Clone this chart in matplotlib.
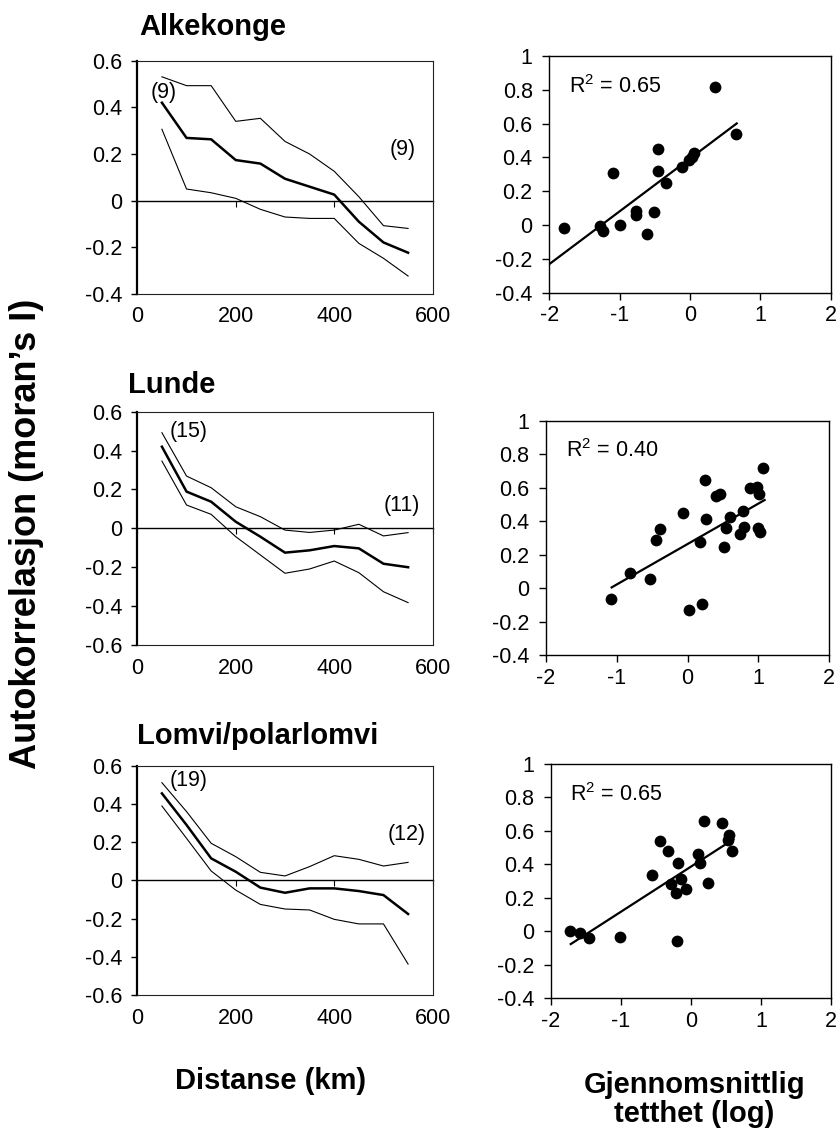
import numpy as np
import matplotlib
matplotlib.use("Agg")
import matplotlib.pyplot as plt
from matplotlib.ticker import FixedLocator, FixedFormatter

plt.rcParams['font.family'] = ['Liberation Sans', 'DejaVu Sans']
plt.rcParams['mathtext.fontset'] = 'custom'
plt.rcParams['mathtext.rm'] = 'Liberation Sans'
plt.rcParams['mathtext.it'] = 'Liberation Sans'
plt.rcParams['mathtext.bf'] = 'Liberation Sans:bold'

# ---------------- data ----------------
distance = [50, 100, 150, 200, 250, 300, 350, 400, 450, 500, 550]

alke_mean = [0.42, 0.269, 0.263, 0.174, 0.159, 0.094, 0.06, 0.026, -0.09, -0.179, -0.223]
alke_upper = [0.531, 0.493, 0.493, 0.34, 0.353, 0.254, 0.2, 0.126, 0.017, -0.107, -0.119]
alke_lower = [0.306, 0.05, 0.034, 0.01, -0.037, -0.07, -0.076, -0.076, -0.183, -0.247, -0.323]

lunde_mean = [0.42, 0.189, 0.137, 0.034, -0.043, -0.125, -0.113, -0.091, -0.103, -0.182, -0.2]
lunde_upper = [0.492, 0.269, 0.209, 0.111, 0.06, -0.009, -0.021, -0.009, 0.021, -0.039, -0.022]
lunde_lower = [0.346, 0.12, 0.072, -0.043, -0.137, -0.231, -0.209, -0.168, -0.228, -0.326, -0.382]

lomvi_mean = [0.455, 0.29, 0.115, 0.045, -0.038, -0.065, -0.042, -0.042, -0.056, -0.077, -0.176]
lomvi_upper = [0.511, 0.36, 0.194, 0.124, 0.042, 0.023, 0.072, 0.129, 0.11, 0.075, 0.094]
lomvi_lower = [0.389, 0.22, 0.049, -0.051, -0.126, -0.15, -0.155, -0.204, -0.228, -0.228, -0.438]

alke_n_labels = ["(9)", "(9)"]
alke_n_pos = [(53, 0.463), (540, 0.22)]
lunde_n_labels = ["(15)", "(11)"]
lunde_n_pos = [(104, 0.5), (537, 0.12)]
lomvi_n_labels = ["(19)", "(12)"]
lomvi_n_pos = [(105, 0.522), (547, 0.239)]

alke_dens = [-1.79, -1.28, -1.24, -1.10, -0.99, -0.77, -0.77, -0.61, -0.51, -0.46,
             -0.45, -0.34, -0.11, -0.01, 0.03, 0.06, 0.355, 0.65]
alke_corr = [-0.016, -0.006, -0.035, 0.306, 0.0, 0.085, 0.059, -0.055, 0.079, 0.452,
             0.321, 0.25, 0.341, 0.385, 0.405, 0.425, 0.818, 0.536]
alke_fit_x = [-2.0, 0.664]
alke_fit_y = [-0.231, 0.601]
alke_r2 = "R$^2$ = 0.65"

lunde_dens = [-1.078, -0.809, -0.532, -0.452, -0.386, -0.066, 0.014, 0.174, 0.207, 0.245,
              0.254, 0.395, 0.456, 0.518, 0.536, 0.598, 0.739, 0.776, 0.791, 0.88,
              0.974, 0.993, 1.012, 1.026, 1.068]
lunde_corr = [-0.064, 0.09, 0.056, 0.287, 0.355, 0.448, -0.131, 0.275, -0.098, 0.645,
              0.412, 0.552, 0.56, 0.247, 0.358, 0.426, 0.321, 0.46, 0.366, 0.6,
              0.603, 0.358, 0.56, 0.333, 0.715]
lunde_fit_x = [-1.073, 1.087]
lunde_fit_y = [0.004, 0.526]
lunde_r2 = "R$^2$ = 0.40"

lomvi_dens = [-1.724, -1.576, -1.453, -1.006, -0.55, -0.436, -0.326, -0.279, -0.187, -0.217,
              -0.14, -0.074, -0.202, 0.097, 0.131, 0.183, 0.245, 0.44, 0.535, 0.544, 0.587]
lomvi_corr = [0.002, -0.012, -0.038, -0.032, 0.335, 0.54, 0.48, 0.281, 0.408, 0.231,
              0.311, 0.255, -0.058, 0.46, 0.41, 0.659, 0.287, 0.645, 0.546, 0.578, 0.48]
lomvi_fit_x = [-1.714, 0.607]
lomvi_fit_y = [-0.076, 0.55]
lomvi_r2 = "R$^2$ = 0.65"

titles = ["Alkekonge", "Lunde", "Lomvi/polarlomvi"]
dist_ticks = [0, 200, 400, 600]
corr_ticks_a = [-0.4, -0.2, 0, 0.2, 0.4, 0.6]
corr_labels_a = ["-0.4", "-0.2", "0", "0.2", "0.4", "0.6"]
corr_ticks_b = [-0.6, -0.4, -0.2, 0, 0.2, 0.4, 0.6]
corr_labels_b = ["-0.6", "-0.4", "-0.2", "0", "0.2", "0.4", "0.6"]
dens_ticks = [-2, -1, 0, 1, 2]
dens_labels = ["-2", "-1", "0", "1", "2"]
scat_yticks = [-0.4, -0.2, 0, 0.2, 0.4, 0.6, 0.8, 1]
scat_ylabels = ["-0.4", "-0.2", "0", "0.2", "0.4", "0.6", "0.8", "1"]

ylabel = "Autokorrelasjon (moran’s I)"
xlabel_left = "Distanse (km)"
xlabel_right = ["Gjennomsnittlig", "tetthet (log)"]

# ---------------- figure ----------------
W, H = 840, 1133
fig = plt.figure(figsize=(W / 100, H / 100), dpi=100)
TICK_FS = 15.5


def fx(px):
    return px / W


def fy(py):
    return 1 - py / H


def left_panel(rect, mean, upper, lower, yticks, ylabels, ylim, n_labels, n_pos):
    ax = fig.add_axes(rect)
    ax.plot(distance, upper, color='black', lw=0.8)
    ax.plot(distance, lower, color='black', lw=0.8)
    ax.plot(distance, mean, color='black', lw=1.8)
    ax.set_xlim(0, 600)
    ax.set_ylim(*ylim)
    ax.yaxis.set_major_locator(FixedLocator(yticks))
    ax.yaxis.set_major_formatter(FixedFormatter(ylabels))
    ax.xaxis.set_major_locator(FixedLocator(dist_ticks))
    ax.tick_params(axis='x', length=0, pad=9, labelsize=TICK_FS)
    ax.tick_params(axis='y', direction='out', length=4, width=1, pad=7, labelsize=TICK_FS)
    for s in ['top', 'right', 'bottom']:
        ax.spines[s].set_linewidth(0.8)
        ax.spines[s].set_color('#222222')
    ax.spines['left'].set_linewidth(1.6)
    # zero-line axis with ticks
    sec = ax.secondary_xaxis(0, transform=ax.transData)
    sec.xaxis.set_major_locator(FixedLocator(dist_ticks))
    sec.tick_params(axis='x', direction='out', length=4, width=0.8, labelbottom=False)
    sec.spines['bottom'].set_linewidth(1.0)
    for lab, (x, y) in zip(n_labels, n_pos):
        ax.text(x, y, lab, ha='center', va='center', fontsize=TICK_FS)
    return ax


def right_panel(rect, dens, corr, fit_x, fit_y, r2):
    ax = fig.add_axes(rect)
    ax.scatter(dens, corr, s=72, color='black', zorder=3, linewidths=0)
    ax.plot(fit_x, fit_y, color='black', lw=1.6)
    ax.set_xlim(-2, 2)
    ax.set_ylim(-0.4, 1)
    ax.xaxis.set_major_locator(FixedLocator(dens_ticks))
    ax.xaxis.set_major_formatter(FixedFormatter(dens_labels))
    ax.yaxis.set_major_locator(FixedLocator(scat_yticks))
    ax.yaxis.set_major_formatter(FixedFormatter(scat_ylabels))
    ax.tick_params(direction='out', length=5, width=1, labelsize=TICK_FS)
    ax.tick_params(axis='x', pad=4)
    ax.tick_params(axis='y', pad=7)
    for s in ax.spines.values():
        s.set_linewidth(1.0)
    ax.text(-1.72, 0.82, r2, ha='left', va='center', fontsize=TICK_FS)
    return ax


# left column
left_x0, left_w = fx(137.3), fx(432.7) - fx(137.3)
left_panel([left_x0, fy(294), left_w, (294 - 60.7) / H],
           alke_mean, alke_upper, alke_lower, corr_ticks_a, corr_labels_a, (-0.4, 0.6),
           alke_n_labels, alke_n_pos)
left_panel([left_x0, fy(645), left_w, (645 - 411.7) / H],
           lunde_mean, lunde_upper, lunde_lower, corr_ticks_b, corr_labels_b, (-0.6, 0.6),
           lunde_n_labels, lunde_n_pos)
left_panel([left_x0, fy(995), left_w, (995 - 765.7) / H],
           lomvi_mean, lomvi_upper, lomvi_lower, corr_ticks_b, corr_labels_b, (-0.6, 0.6),
           lomvi_n_labels, lomvi_n_pos)

# right column
right_panel([fx(549.3), fy(292.7), fx(830.7) - fx(549.3), (292.7 - 56) / H],
            alke_dens, alke_corr, alke_fit_x, alke_fit_y, alke_r2)
right_panel([fx(546), fy(655), fx(829.3) - fx(546), (655 - 420.7) / H],
            lunde_dens, lunde_corr, lunde_fit_x, lunde_fit_y, lunde_r2)
right_panel([fx(550.7), fy(998.3), fx(831) - fx(550.7), (998.3 - 764) / H],
            lomvi_dens, lomvi_corr, lomvi_fit_x, lomvi_fit_y, lomvi_r2)

# titles
title_pos = [(139, 35), (128, 392.7), (137, 744)]
for t, (px, py) in zip(titles, title_pos):
    fig.text(fx(px), fy(py), t, fontsize=21, fontweight='bold', ha='left', va='baseline')

# axis labels
fig.text(fx(27), fy(534), ylabel, rotation=90, fontsize=26, fontweight='bold',
         ha='center', va='center')
fig.text(fx(271), fy(1089), xlabel_left, fontsize=21, fontweight='bold',
         ha='center', va='baseline')
fig.text(fx(694.5), fy(1092.7), xlabel_right[0], fontsize=21, fontweight='bold',
         ha='center', va='baseline')
fig.text(fx(694.5), fy(1121.7), xlabel_right[1], fontsize=21, fontweight='bold',
         ha='center', va='baseline')

fig.savefig("out.png", dpi=100)
